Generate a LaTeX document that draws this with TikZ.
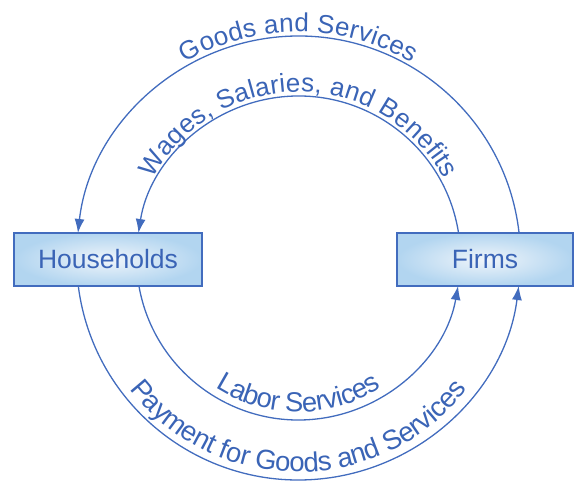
\documentclass[tikz,border=0pt]{standalone}
\usepackage{fontspec}
\setmainfont{Liberation Sans}
\usetikzlibrary{arrows.meta,decorations.text,calc}
\definecolor{lineblue}{RGB}{66,108,190}
\definecolor{txtblue}{RGB}{58,100,182}
\definecolor{boxedge}{RGB}{178,213,240}
\definecolor{boxmid}{RGB}{240,245,250}
\newcommand\lblfont{\fontsize{26}{31}\selectfont}
\newcommand\lblfontb{\fontsize{27.5}{32}\selectfont}
\begin{document}
\begin{tikzpicture}[x=1pt,y=1pt,
  box/.style={draw=lineblue, line width=1.4pt, inner color=boxmid, outer color=boxedge,
    text=txtblue, font=\fontsize{26.5}{31}\selectfont},
  flow/.style={draw=lineblue, line width=1.3pt, -{Latex[length=14pt,width=10pt]}},
  lbl/.style={decorate, decoration={text along path, text align=center, raise=#1, text color=txtblue}}
]
\useasboundingbox (0,0) rectangle (576,484);
\coordinate (c) at (298.5,226);
\node[box, minimum width=188pt, minimum height=53pt] (hh) at (108,224.5) {Households};
\node[box, minimum width=176pt, minimum height=53pt] (ff) at (485,224.5) {Firms};
% top arcs: firms -> households
\draw[flow] ($(c)+(6.47:222)$) arc[start angle=6.47, end angle=173.53, radius=222];
\draw[flow] ($(c)+(8.88:162)$) arc[start angle=8.88, end angle=171.12, radius=162];
% bottom arcs: households -> firms
\draw[flow] ($(c)+(187.25:222)$) arc[start angle=187.25, end angle=352.75, radius=222];
\draw[flow] ($(c)+(189.95:162)$) arc[start angle=189.95, end angle=350.05, radius=162];
% labels
\path[lbl=4pt, decoration={text={|\lblfont|Goods and Services}}]
  ($(c)+(173.53:222)$) arc[start angle=173.53, end angle=6.47, radius=222];
\path[lbl=4pt, decoration={text={|\lblfont|Wages, Salaries, and Benefits}}]
  ($(c)+(171.12:162)$) arc[start angle=171.12, end angle=8.88, radius=162];
\path[lbl=8pt, decoration={text={|\lblfontb|Labor Services}}]
  ($(c)+(189.95:162)$) arc[start angle=189.95, end angle=350.05, radius=162];
\path[lbl=8pt, decoration={text={|\lblfontb|Payment for Goods and Services}}]
  ($(c)+(187.25:222)$) arc[start angle=187.25, end angle=352.75, radius=222];
\end{tikzpicture}
\end{document}
